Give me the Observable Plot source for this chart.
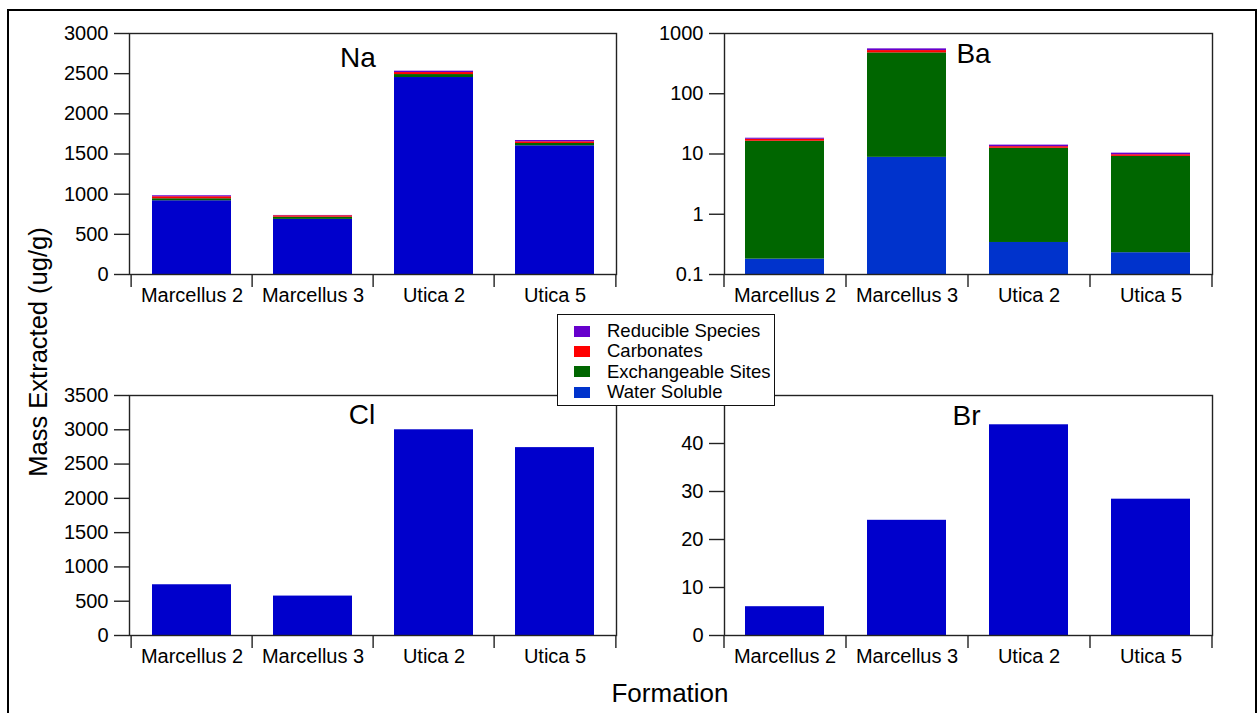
<!DOCTYPE html>
<html>
<head>
<meta charset="utf-8">
<script src="https://cdn.jsdelivr.net/npm/d3@7"></script>
<script src="https://cdn.jsdelivr.net/npm/@observablehq/plot@0.6"></script>
<style>
  html, body { margin: 0; padding: 0; background: #fff; overflow: hidden; }
  #root { position: relative; width: 1259px; height: 713px; overflow: hidden; font-family: "Liberation Sans", Arial, sans-serif; color: #000; }
  .panel { position: absolute; }
  #border { position: absolute; left: 7px; top: 9px; width: 1250px; height: 800px; border: 2px solid #000; box-sizing: border-box; }
  #legend { position: absolute; left: 557px; top: 314px; width: 218px; height: 92px; box-sizing: border-box; border: 1.5px solid #111; background: #fff; z-index: 5; font-size: 18.5px; }
  .lrow { position: absolute; left: 16px; height: 20px; display: flex; align-items: center; }
  .sw { width: 16px; height: 11px; margin-right: 17px; }
  #ytitle { position: absolute; left: 38px; top: 352px; transform: translate(-50%, -50%) rotate(-90deg); font-size: 25.5px; white-space: nowrap; }
  #xtitle { position: absolute; left: 670px; top: 693px; transform: translate(-50%, -50%); font-size: 26px; white-space: nowrap; }
</style>
</head>
<body>
<div id="root">
  <div id="border"></div>
  <div id="na" class="panel" style="left:49px; top:23px;"></div>
  <div id="ba" class="panel" style="left:644px; top:23px;"></div>
  <div id="cl" class="panel" style="left:49px; top:385px;"></div>
  <div id="br" class="panel" style="left:644px; top:385px;"></div>
  <div id="legend"></div>
  <div id="ytitle">Mass Extracted (ug/g)</div>
  <div id="xtitle">Formation</div>
</div>
<script>
// ---------- data ----------
const formations = ["Marcellus 2", "Marcellus 3", "Utica 2", "Utica 5"];
const fractions = ["Water Soluble", "Exchangeable Sites", "Carbonates", "Reducible Species"];
const legendOrder = ["Reducible Species", "Carbonates", "Exchangeable Sites", "Water Soluble"];

// Na (ug/g), stacked
const naWater = [918, 686, 2452, 1602];
const naExch  = [25, 27, 37, 29];
const naCarb  = [25, 18, 25, 21];
const naRed   = [12, 4, 17, 16];

// Ba (ug/g), stacked on log axis
const baWater = [0.18, 8.8, 0.34, 0.23];
const baExch  = [16.1, 468, 12.1, 8.9];
const baCarb  = [1.3, 44, 0.8, 0.6];
const baRed   = [0.7, 35, 0.8, 0.6];

// Cl and Br (water soluble only)
const clWater = [740, 575, 3000, 2740];
const brWater = [6.0, 24.0, 43.9, 28.4];

// axis ticks
const naTicks = [0, 500, 1000, 1500, 2000, 2500, 3000];
const baTicks = [0.1, 1, 10, 100, 1000];
const clTicks = [0, 500, 1000, 1500, 2000, 2500, 3000, 3500];
const brTicks = [0, 10, 20, 30, 40];

// colours
const colorsDark = {"Water Soluble": "#0000cc", "Exchangeable Sites": "#006600", "Carbonates": "#ff0000", "Reducible Species": "#6600cc"};
const colorsBa   = {"Water Soluble": "#0033cc", "Exchangeable Sites": "#006600", "Carbonates": "#ff0000", "Reducible Species": "#6600cc"};

// ---------- helpers ----------
const FONT = "Liberation Sans, Arial, sans-serif";
const M = {left: 80, right: 10, top: 10, bottom: 40};

function stackedRows(series, floor) {
  const rows = [];
  formations.forEach((f, i) => {
    let cum = 0;
    series.forEach((arr, j) => {
      const v = arr[i];
      rows.push({formation: f, fraction: fractions[j], value: v,
                 y1: j === 0 && floor != null ? floor : cum, y2: cum + v});
      cum += v;
    });
  });
  return rows;
}

function panel({id, innerW, innerH, yType = "linear", yDomain, yTicks, rows, colors, title, tdx, tdy}) {
  const width = M.left + innerW + M.right;
  const height = M.top + innerH + M.bottom;
  const step = innerW / formations.length;
  const plot = Plot.plot({
    width, height,
    marginLeft: M.left, marginRight: M.right, marginTop: M.top, marginBottom: M.bottom,
    style: {fontFamily: FONT, fontSize: "20px", color: "#000", background: "transparent", overflow: "visible"},
    x: {domain: formations, paddingInner: 0.35, paddingOuter: 0.175, axis: null},
    y: {type: yType, domain: yDomain, axis: null},
    color: {type: "identity"},
    marks: [
      Plot.barY(rows, {x: "formation", y1: "y1", y2: "y2", fill: d => colors[d.fraction]}),
      Plot.frame({stroke: "#222", strokeWidth: 1.4}),
      Plot.axisY({ticks: yTicks, tickSize: 15, tickPadding: 6, tickFormat: d => String(d), label: null, fontSize: 20, stroke: "#222", strokeWidth: 1.4}),
      Plot.axisX({tickSize: 0, tickPadding: 13, label: null, fontSize: 20}),
      // category dividers below the axis (band boundaries)
      Plot.ruleX(formations, {x: d => d, dx: -step / 2, insetTop: innerH, insetBottom: -13, stroke: "#222", strokeWidth: 1.4}),
      Plot.ruleX(formations.slice(-1), {x: d => d, dx: step / 2, insetTop: innerH, insetBottom: -13, stroke: "#222", strokeWidth: 1.4}),
      Plot.text([title], {text: d => d, frameAnchor: "top", lineAnchor: "middle", dx: tdx, dy: tdy, fontSize: 28, fill: "#000"})
    ]
  });
  document.getElementById(id).appendChild(plot);
}

// ---------- panels ----------
panel({id: "na", innerW: 487, innerH: 241, yDomain: [0, 3000], yTicks: naTicks,
       rows: stackedRows([naWater, naExch, naCarb, naRed], null), colors: colorsDark,
       title: "Na", tdx: -15, tdy: 25});

panel({id: "ba", innerW: 488, innerH: 241, yType: "log", yDomain: [0.1, 1000], yTicks: baTicks,
       rows: stackedRows([baWater, baExch, baCarb, baRed], 0.1), colors: colorsBa,
       title: "Ba", tdx: 5, tdy: 21});

panel({id: "cl", innerW: 487, innerH: 240, yDomain: [0, 3500], yTicks: clTicks,
       rows: stackedRows([clWater], null), colors: colorsDark,
       title: "Cl", tdx: -11, tdy: 20});

panel({id: "br", innerW: 488, innerH: 240, yDomain: [0, 50], yTicks: brTicks,
       rows: stackedRows([brWater], null), colors: colorsDark,
       title: "Br", tdx: -2, tdy: 21});

// ---------- legend ----------
const legend = document.getElementById("legend");
legendOrder.forEach((name, i) => {
  const row = document.createElement("div");
  row.className = "lrow";
  row.style.top = (6 + i * 20.4) + "px";
  const sw = document.createElement("div");
  sw.className = "sw";
  sw.style.background = colorsBa[name];
  const tx = document.createElement("span");
  tx.textContent = name;
  row.appendChild(sw);
  row.appendChild(tx);
  legend.appendChild(row);
});
</script>
</body>
</html>
